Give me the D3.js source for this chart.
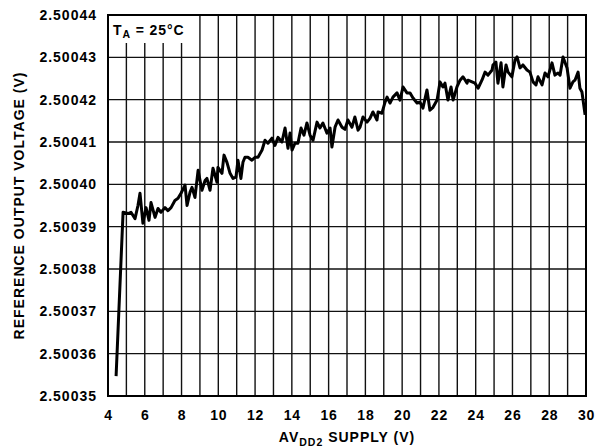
<!DOCTYPE html>
<html><head><meta charset="utf-8">
<script src="https://cdn.jsdelivr.net/npm/d3@7"></script>
<style>body{margin:0;background:#fff}svg{display:block}text{font-family:"Liberation Sans",Arial,sans-serif;font-weight:bold;fill:#000}</style>
</head><body>
<svg id="c" width="600" height="448"></svg>
<script>
const supplyV = [4.44,4.82,5.09,5.25,5.47,5.63,5.74,5.90,6.07,6.23,6.34,6.56,6.72,6.88,7.10,7.26,7.43,7.64,7.81,7.97,8.19,8.30,8.46,8.57,8.73,8.90,9.11,9.28,9.38,9.55,9.71,9.93,9.98,10.20,10.31,10.47,10.64,10.80,10.96,11.07,11.23,11.34,11.45,11.61,11.83,12.00,12.16,12.38,12.54,12.70,12.92,13.08,13.25,13.46,13.63,13.79,13.90,14.01,14.17,14.33,14.50,14.66,14.82,14.99,15.15,15.37,15.53,15.69,15.91,16.08,16.18,16.35,16.51,16.73,16.89,17.05,17.27,17.43,17.60,17.71,17.87,18.09,18.25,18.41,18.63,18.69,18.90,19.07,19.18,19.34,19.50,19.72,19.88,20.05,20.26,20.43,20.59,20.81,20.97,21.13,21.35,21.51,21.68,21.90,22.06,22.22,22.33,22.49,22.66,22.77,22.98,23.15,23.31,23.53,23.58,23.80,23.96,24.13,24.34,24.51,24.67,24.89,24.94,25.10,25.21,25.38,25.48,25.65,25.76,25.97,26.14,26.25,26.41,26.57,26.79,26.95,27.12,27.28,27.39,27.61,27.77,27.93,28.15,28.31,28.48,28.59,28.75,28.97,29.13,29.29,29.40,29.57,29.67,29.78,29.95];
const refOutV = [2.5003547,2.5003934,2.5003931,2.5003934,2.5003919,2.5003950,2.5003979,2.5003908,2.5003945,2.5003915,2.5003957,2.5003922,2.5003943,2.5003934,2.5003945,2.5003938,2.5003945,2.5003962,2.5003967,2.5003979,2.5003998,2.5003950,2.5003981,2.5003993,2.5003969,2.5004033,2.5003986,2.5004009,2.5004014,2.5003986,2.5004038,2.5004005,2.5004040,2.5004026,2.5004069,2.5004052,2.5004026,2.5004014,2.5004017,2.5004057,2.5004014,2.5004052,2.5004064,2.5004064,2.5004057,2.5004064,2.5004064,2.5004081,2.5004104,2.5004097,2.5004109,2.5004092,2.5004111,2.5004100,2.5004133,2.5004085,2.5004121,2.5004081,2.5004097,2.5004097,2.5004133,2.5004116,2.5004145,2.5004116,2.5004104,2.5004147,2.5004133,2.5004145,2.5004121,2.5004133,2.5004088,2.5004135,2.5004152,2.5004135,2.5004130,2.5004152,2.5004135,2.5004159,2.5004128,2.5004135,2.5004159,2.5004147,2.5004156,2.5004171,2.5004152,2.5004171,2.5004168,2.5004194,2.5004206,2.5004192,2.5004206,2.5004216,2.5004199,2.5004230,2.5004216,2.5004216,2.5004204,2.5004192,2.5004194,2.5004180,2.5004223,2.5004175,2.5004182,2.5004199,2.5004242,2.5004230,2.5004239,2.5004199,2.5004230,2.5004199,2.5004230,2.5004246,2.5004254,2.5004239,2.5004246,2.5004242,2.5004239,2.5004227,2.5004246,2.5004265,2.5004258,2.5004270,2.5004282,2.5004289,2.5004239,2.5004287,2.5004230,2.5004282,2.5004265,2.5004254,2.5004294,2.5004301,2.5004275,2.5004282,2.5004270,2.5004265,2.5004242,2.5004235,2.5004254,2.5004235,2.5004263,2.5004254,2.5004287,2.5004258,2.5004263,2.5004258,2.5004301,2.5004275,2.5004227,2.5004242,2.5004246,2.5004265,2.5004227,2.5004218,2.5004164];
const xTicks = [4,6,8,10,12,14,16,18,20,22,24,26,28,30];
const yTicks = [2.50035,2.50036,2.50037,2.50038,2.50039,2.50040,2.50041,2.50042,2.50043,2.50044];
const xGrid = d3.range(5,30,1);

const svg = d3.select("#c");
const L=108,R=586,T=15,B=396;
const x = d3.scaleLinear().domain([4,30]).range([L,R]);
const y = d3.scaleLinear().domain([2.50035,2.50044]).range([B,T]);

// grid
const g = svg.append("g");
g.selectAll(".vg").data(xGrid).enter().append("line")
 .attr("x1",d=>x(d)).attr("x2",d=>x(d)).attr("y1",T).attr("y2",B)
 .attr("stroke","#111").attr("stroke-width",1.4);
g.selectAll(".hg").data(yTicks.slice(1,-1)).enter().append("line")
 .attr("x1",L).attr("x2",R).attr("y1",d=>y(d)).attr("y2",d=>y(d))
 .attr("stroke","#111").attr("stroke-width",1.4);

// label box
svg.append("rect").attr("x",L+1).attr("y",T+1).attr("width",84).attr("height",27).attr("fill","#fff");
const ta = svg.append("text").attr("x",113).attr("y",35).attr("font-size",14).attr("letter-spacing",0.9);
ta.append("tspan").text("T");
ta.append("tspan").attr("font-size",10.5).attr("dy",3).text("A");
ta.append("tspan").attr("dy",-3).text(" = 25°C");

// frame
svg.append("rect").attr("x",L).attr("y",T).attr("width",R-L).attr("height",B-T)
 .attr("fill","none").attr("stroke","#000").attr("stroke-width",2);

// line
const line = d3.line().x((d,i)=>x(supplyV[i])).y(d=>y(d));
svg.append("path").datum(refOutV).attr("d",line).attr("fill","none")
 .attr("stroke","#000").attr("stroke-width",3).attr("stroke-linejoin","round");

// axes
const xa = svg.append("g").attr("transform",`translate(0,${B})`)
 .call(d3.axisBottom(x).tickValues(xTicks).tickSize(0).tickPadding(14).tickFormat(d3.format("d")));
xa.select(".domain").remove();
xa.selectAll("text").attr("font-size",14).attr("letter-spacing",0.8).style("font-family","'Liberation Sans',Arial,sans-serif").style("font-weight","bold");
const ya = svg.append("g").attr("transform",`translate(${L+1},0)`)
 .call(d3.axisLeft(y).tickValues(yTicks).tickSize(0).tickPadding(12).tickFormat(d3.format(".5f")));
ya.select(".domain").remove();
ya.selectAll("text").attr("font-size",14).attr("letter-spacing",1).style("font-family","'Liberation Sans',Arial,sans-serif").style("font-weight","bold");

// titles
const xt = svg.append("text").attr("x",(L+R)/2).attr("y",442).attr("text-anchor","middle").attr("font-size",14).attr("letter-spacing",1);
xt.append("tspan").text("AV");
xt.append("tspan").attr("font-size",10.5).attr("dy",4).text("DD2");
xt.append("tspan").attr("dy",-4).text(" SUPPLY (V)");
svg.append("text").attr("transform",`translate(24,${(T+B)/2}) rotate(-90)`).attr("text-anchor","middle")
 .attr("font-size",14).attr("letter-spacing",1).text("REFERENCE OUTPUT VOLTAGE (V)");
</script>
</body></html>
